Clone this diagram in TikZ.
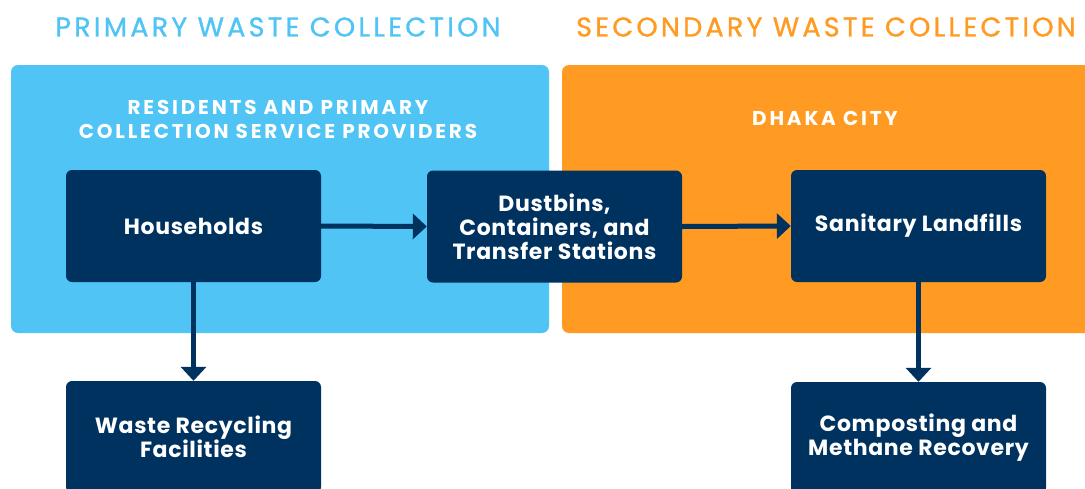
\documentclass[tikz,border=0pt]{standalone}
\usepackage{fontspec}
\setmainfont{Poppins}
\newfontfamily\titlefont[LetterSpace=12, FakeBold=1]{Poppins}
\newfontfamily\panelfont[LetterSpace=14]{Poppins}
\newfontfamily\boxfont[LetterSpace=3]{Poppins}
\usetikzlibrary{arrows.meta}
\definecolor{navy}{RGB}{0,50,95}
\definecolor{skyblue}{RGB}{80,196,245}
\definecolor{amber}{RGB}{255,155,34}
\tikzset{
  stagebox/.style={fill=navy, rounded corners=6pt, minimum width=255pt, minimum height=112pt,
    text=white, font=\boxfont\bfseries\fontsize{22}{24}\selectfont, align=center, inner sep=0pt},
  flow/.style={draw=navy, line width=5pt, -{Triangle[length=14pt,width=25pt]}},
  title/.style={font=\titlefont\fontsize{27}{30}\selectfont, inner sep=0pt},
  panellabel/.style={text=white, font=\panelfont\bfseries\fontsize{20}{24}\selectfont, align=center, inner sep=0pt}
}
\begin{document}
\begin{tikzpicture}[x=1pt,y=-1pt]
\clip (0,0) rectangle (1085,488);
\fill[white] (0,0) rectangle (1085,488);
\fill[skyblue, rounded corners=7pt] (11,65) rectangle (549,333);
\fill[amber, rounded corners=7pt] (562,65) rectangle (1110,333);
\node[title, text=skyblue] (t1) at (278,27) {PRIMARY WASTE COLLECTION};
\node[title, text=amber] (t2) at (826,27) {SECONDARY WASTE COLLECTION};
\node[panellabel] (p1) at (278,119) {RESIDENTS AND PRIMARY\\COLLECTION SERVICE PROVIDERS};
\node[panellabel] (p2) at (825,118) {DHAKA CITY};
\node[stagebox] (hh) at (193.5,226) {Households};
\node[stagebox] (db) at (554.5,226.5) {Dustbins,\\Containers, and\\Transfer Stations};
\node[stagebox] (sl) at (918.5,226) {Sanitary Landfills};
\node[stagebox] (wr) at (193.5,437) {Waste Recycling\\Facilities};
\node[stagebox] (cm) at (918.5,438) {Composting and\\Methane Recovery};
\draw[flow] (hh.east) -- (db.west);
\draw[flow] (db.east) -- (sl.west);
\draw[flow] (hh.south) -- (wr.north);
\draw[flow] (sl.south) -- (cm.north);
\end{tikzpicture}
\end{document}
